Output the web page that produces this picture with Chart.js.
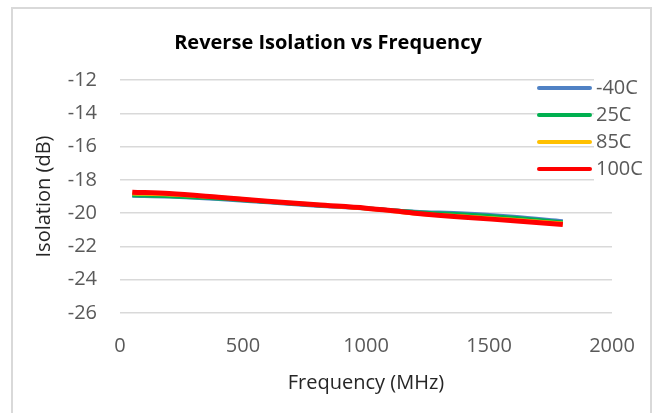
<!DOCTYPE html>
<html>
<head>
<meta charset="utf-8">
<script src="https://cdn.jsdelivr.net/npm/chart.js@4.4.0/dist/chart.umd.min.js"></script>
<style>
  html, body { margin: 0; padding: 0; background: #fff; }
  #wrap { width: 656px; height: 413px; position: relative; }
</style>
</head>
<body>
<div id="wrap"><canvas id="iso_chart" width="656" height="413"></canvas></div>
<script>
// ---------- data ----------
const freqMHz = [50, 200, 400, 600, 800, 1000, 1100, 1200, 1400, 1600, 1800];
const iso_m40C = [-18.95, -19.00, -19.15, -19.35, -19.55, -19.72, -19.82, -19.91, -20.02, -20.22, -20.48];
const iso_25C  = [-18.93, -18.98, -19.12, -19.32, -19.52, -19.70, -19.82, -19.94, -20.08, -20.28, -20.55];
const iso_85C  = [-18.82, -18.88, -19.05, -19.28, -19.50, -19.72, -19.86, -20.02, -20.20, -20.40, -20.62];
const iso_100C = [-18.74, -18.82, -19.04, -19.28, -19.50, -19.70, -19.84, -20.00, -20.25, -20.45, -20.68];

const seriesNames = ['-40C', '25C', '85C', '100C'];
const seriesColors = ['#4f81c4', '#00b050', '#ffc000', '#ff0000'];
const seriesValues = [iso_m40C, iso_25C, iso_85C, iso_100C];

const xTicks = [0, 500, 1000, 1500, 2000];
const yTicks = [-26, -24, -22, -20, -18, -16, -14, -12];

const FONT = "'Open Sans', sans-serif";

// excel-like frame round the whole chart
const frame = {
    id: 'frame',
    beforeDraw(chart) {
        const c = chart.ctx;
        c.save();
        c.fillStyle = '#fff';
        c.fillRect(0, 0, chart.width, chart.height);
        c.strokeStyle = '#d9d9d9';
        c.lineWidth = 2;
        c.strokeRect(12, 8, 639, 420);
        c.restore();
    }
};

// legend sitting over the top right corner of the plot
const overLegend = {
    id: 'overLegend',
    afterDraw(chart) {
        const c = chart.ctx;
        c.save();
        c.font = '20px ' + FONT;
        c.textBaseline = 'middle';
        chart.data.datasets.forEach((ds, i) => {
            const y = 88 + i * 27;
            c.fillStyle = '#fff';
            c.fillRect(594, y - 12, 54, 24);
            c.strokeStyle = ds.borderColor;
            c.lineWidth = 4;
            c.lineCap = 'round';
            c.beginPath();
            c.moveTo(539, y);
            c.lineTo(590, y);
            c.stroke();
            c.fillStyle = '#595959';
            c.fillText(ds.label, 596, y);
        });
        c.restore();
    }
};

const ctx = document.getElementById('iso_chart');

new Chart(ctx, {
    type: 'line',
    data: {
        datasets: seriesNames.map((name, i) => ({
            label: name,
            data: freqMHz.map((f, j) => ({ x: f, y: seriesValues[i][j] })),
            borderColor: seriesColors[i],
            backgroundColor: seriesColors[i],
            borderWidth: i === 3 ? 5 : 4,
            pointRadius: 0,
            cubicInterpolationMode: 'monotone',
            order: 4 - i
        }))
    },
    options: {
        responsive: false,
        animation: false,
        devicePixelRatio: 1,
        layout: { padding: 0 },
        plugins: {
            legend: { display: false },
            tooltip: { enabled: false },
            title: {
                display: true,
                text: 'Reverse Isolation vs Frequency',
                color: '#000',
                font: { family: FONT, size: 20, weight: 'bold' },
                padding: { top: 31, bottom: 25 }
            }
        },
        scales: {
            x: {
                type: 'linear',
                min: 0,
                max: 2000,
                afterBuildTicks: s => { s.ticks = xTicks.map(v => ({ value: v })); },
                afterFit: s => { s.height = 100; },
                grid: { display: false },
                border: { display: false },
                ticks: {
                    color: '#595959',
                    font: { family: FONT, size: 20 },
                    padding: 13,
                    callback: v => String(v)
                },
                title: {
                    display: true,
                    text: 'Frequency (MHz)',
                    color: '#262626',
                    font: { family: FONT, size: 20 },
                    padding: { top: 4, bottom: 18 }
                }
            },
            y: {
                min: -26,
                max: -12,
                afterBuildTicks: s => { s.ticks = yTicks.map(v => ({ value: v })); },
                afterFit: s => { s.width = 120; },
                grid: { color: '#d9d9d9', lineWidth: 1.5, drawTicks: false },
                border: { display: false },
                ticks: { color: '#595959', font: { family: FONT, size: 20 }, padding: 23 },
                title: {
                    display: true,
                    text: 'Isolation (dB)',
                    color: '#262626',
                    font: { family: FONT, size: 20 },
                    padding: { top: 32, bottom: 0 }
                }
            },
            // empty right-hand axis, only keeps room for the legend
            yRight: {
                position: 'right',
                min: -26,
                max: -12,
                afterFit: s => { s.width = 44; },
                grid: { display: false },
                border: { display: false },
                ticks: { display: false }
            }
        }
    },
    plugins: [frame, overLegend]
});
</script>
</body>
</html>
